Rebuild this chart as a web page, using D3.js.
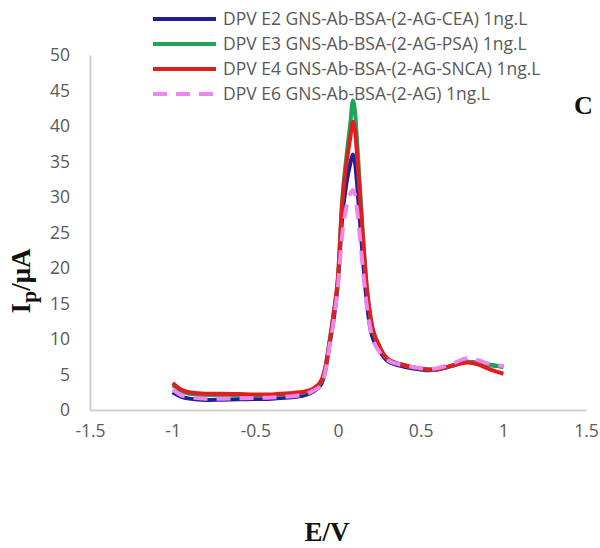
<!DOCTYPE html>
<html>
<head>
<meta charset="utf-8">
<script src="https://cdn.jsdelivr.net/npm/d3@7"></script>
<style>
  html, body { margin: 0; padding: 0; background: #fff; }
  svg { display: block; }
</style>
</head>
<body>
<svg id="chart" width="600" height="548"></svg>
<script>
// Applied potential (V) shared by all DPV scans
const potential = [-1, -0.95, -0.9, -0.8, -0.7, -0.6, -0.5, -0.4, -0.3, -0.2, -0.15, -0.1, -0.075, -0.05, -0.025, 0, 0.025, 0.05, 0.075, 0.09, 0.105, 0.115, 0.13, 0.15, 0.175, 0.2, 0.25, 0.3, 0.4, 0.5, 0.55, 0.6, 0.7, 0.78, 0.85, 0.9, 1.0];

// Peak current (µA) for each electrode
const currentE2 = [2.5, 1.9, 1.6, 1.4, 1.45, 1.5, 1.55, 1.6, 1.75, 2.1, 2.6, 3.7, 5.8, 9.4, 13.0, 18.0, 27.0, 31.8, 34.8, 36.0, 34.5, 32.0, 27.5, 21.5, 15.0, 11.0, 8.4, 6.9, 6.1, 5.7, 5.6, 5.7, 6.3, 6.8, 6.6, 6.4, 6.1];
const currentE3 = [3.5, 2.7, 2.3, 2.1, 2.1, 2.1, 2.0, 2.05, 2.2, 2.5, 2.9, 4.0, 6.2, 9.8, 13.8, 18.5, 29.5, 35.5, 40.5, 43.6, 41.5, 38.0, 32.5, 25.0, 17.0, 12.5, 9.0, 7.2, 6.3, 5.8, 5.7, 5.75, 6.3, 6.8, 6.6, 6.4, 6.1];
const currentE4 = [3.8, 2.9, 2.5, 2.3, 2.3, 2.25, 2.2, 2.2, 2.35, 2.6, 3.0, 4.2, 6.2, 9.8, 13.8, 18.8, 29.0, 34.5, 38.5, 40.6, 39.0, 36.0, 31.0, 24.5, 17.0, 12.6, 9.0, 7.2, 6.3, 5.8, 5.7, 5.75, 6.3, 6.7, 6.4, 5.9, 5.1];
const currentE6 = [2.9, 2.1, 1.8, 1.6, 1.6, 1.65, 1.7, 1.75, 1.9, 2.2, 2.7, 3.6, 5.6, 9.2, 12.7, 17.5, 24.5, 28.5, 30.5, 31.0, 30.0, 28.3, 25.0, 20.0, 14.5, 11.0, 8.2, 7.0, 6.3, 5.9, 5.8, 5.9, 6.6, 7.3, 7.0, 6.6, 6.2];

const seriesNames = [
  "DPV E2 GNS-Ab-BSA-(2-AG-CEA) 1ng.L",
  "DPV E3 GNS-Ab-BSA-(2-AG-PSA) 1ng.L",
  "DPV E4 GNS-Ab-BSA-(2-AG-SNCA) 1ng.L",
  "DPV E6 GNS-Ab-BSA-(2-AG) 1ng.L"
];
const xTicks = [-1.5, -1, -0.5, 0, 0.5, 1, 1.5];
const yTicks = [0, 5, 10, 15, 20, 25, 30, 35, 40, 45, 50];

const seriesValues = [currentE2, currentE3, currentE4, currentE6];
const seriesColors = ["#1f1f9c", "#1fa55a", "#e11d1d", "#ee86ee"];
const seriesDash = [null, null, null, "14,9"];

const svg = d3.select("#chart");
const x = d3.scaleLinear().domain([-1.5, 1.5]).range([90, 586]);
const y = d3.scaleLinear().domain([0, 50]).range([410, 55]);

const axisColor = "#d0d0d0";
const labelColor = "#595959";
const tickFont = "'Open Sans', 'Noto Sans', sans-serif";

// Axes (no tick marks, plain hyphen for negatives)
const xAxis = svg.append("g").attr("transform", `translate(0,${y(0)})`)
  .call(d3.axisBottom(x).tickValues(xTicks).tickSize(0).tickPadding(21).tickFormat(d => String(d)));
const yAxis = svg.append("g").attr("transform", `translate(${x(-1.5)},0)`)
  .call(d3.axisLeft(y).tickValues(yTicks).tickSize(0).tickPadding(20).tickFormat(d => String(d)));
[xAxis, yAxis].forEach(g => {
  g.select(".domain").attr("stroke", axisColor).attr("stroke-width", 2);
  g.selectAll("text").attr("fill", labelColor).style("font-family", tickFont).style("font-size", "17.5px");
});
xAxis.selectAll("text").attr("dy", "0.32em");

// Curves
const line = d3.line()
  .x((d, i) => x(potential[i]))
  .y(d => y(d))
  .curve(d3.curveMonotoneX);

svg.append("g").selectAll("path")
  .data(seriesValues)
  .join("path")
  .attr("d", d => line(d))
  .attr("fill", "none")
  .attr("stroke", (d, i) => seriesColors[i])
  .attr("stroke-width", 4)
  .attr("stroke-dasharray", (d, i) => seriesDash[i])
  .attr("stroke-linejoin", "round");

// Legend
const legend = svg.append("g");
const rowY = [19, 44, 69, 94];
seriesNames.forEach((name, i) => {
  const row = legend.append("g").attr("transform", `translate(0,${rowY[i]})`);
  row.append("line")
    .attr("x1", 153).attr("x2", 216).attr("y1", 0).attr("y2", 0)
    .attr("stroke", seriesColors[i]).attr("stroke-width", 4)
    .attr("stroke-dasharray", seriesDash[i]);
  row.append("text")
    .attr("x", 223).attr("y", 0).attr("dy", "0.35em")
    .attr("fill", labelColor)
    .style("font-family", tickFont).style("font-size", "17.5px")
    .text(name);
});

// Axis titles
const titleFont = "'Liberation Serif', 'DejaVu Serif', serif";
svg.append("text")
  .attr("x", 327).attr("y", 541)
  .attr("text-anchor", "middle")
  .style("font-family", titleFont).style("font-weight", "bold").style("font-size", "27px")
  .attr("fill", "#111")
  .text("E/V");

const yTitle = svg.append("text")
  .attr("transform", "translate(30,281) rotate(-90)")
  .attr("text-anchor", "middle")
  .style("font-family", titleFont).style("font-weight", "bold").style("font-size", "27px")
  .attr("fill", "#111");
yTitle.append("tspan").text("I");
yTitle.append("tspan").attr("dy", "0.25em").style("font-size", "22px").text("p");
yTitle.append("tspan").attr("dy", "-0.2em").text("/μA");

// Panel letter
svg.append("text")
  .attr("x", 574).attr("y", 114)
  .style("font-family", titleFont).style("font-weight", "bold").style("font-size", "26px")
  .attr("fill", "#111")
  .text("C");
</script>
</body>
</html>
